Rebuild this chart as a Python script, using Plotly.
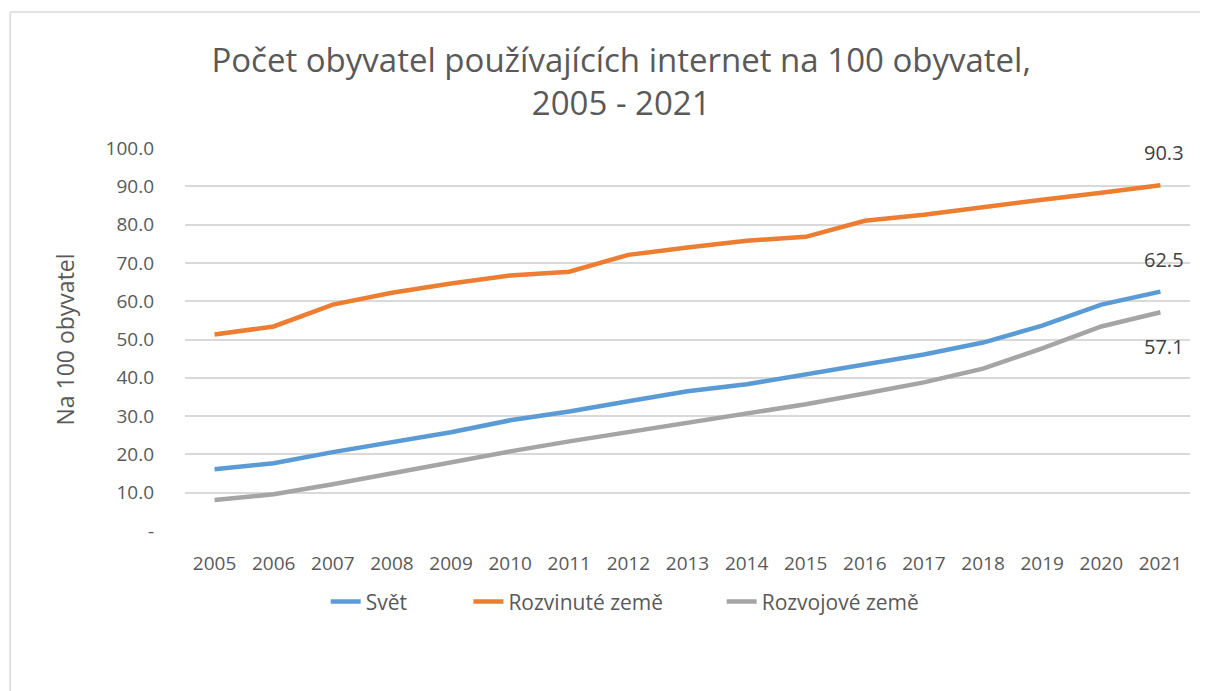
import plotly.graph_objects as go

years = [str(y) for y in range(2005, 2022)]
svet = [16.1, 17.7, 20.6, 23.2, 25.8, 28.9, 31.2, 33.9, 36.5, 38.3, 40.9, 43.5, 46.1, 49.2, 53.6, 59.1, 62.5]
rozvinute = [51.3, 53.4, 59.1, 62.2, 64.6, 66.7, 67.7, 72.1, 74.0, 75.8, 76.8, 81.0, 82.6, 84.6, 86.5, 88.3, 90.3]
rozvojove = [8.1, 9.6, 12.2, 15.1, 17.7, 20.8, 23.4, 25.8, 28.1, 30.5, 33.1, 35.9, 38.8, 42.4, 47.7, 53.4, 57.1]
series_names = ["Svět", "Rozvinuté země", "Rozvojové země"]
y_tickvals = [0, 10, 20, 30, 40, 50, 60, 70, 80, 90, 100]
y_ticktext = ["-", "10.0", "20.0", "30.0", "40.0", "50.0", "60.0", "70.0", "80.0", "90.0", "100.0"]
title_text = "Počet obyvatel používajících internet na 100 obyvatel,<br>2005 - 2021"
y_title = "Na 100 obyvatel"

colors = ["#5B9BD5", "#ED7D31", "#A5A5A5"]
FONT = "Open Sans"
legend_ids = ["legend", "legend2", "legend3"]
legend_x = [0.140, 0.282, 0.534]

fig = go.Figure()
for name, vals, c, lg in zip(series_names, [svet, rozvinute, rozvojove], colors, legend_ids):
    fig.add_trace(go.Scatter(x=years, y=vals, name=name, mode="lines",
                             line=dict(color=c, width=4.5), legend=lg))

# end labels (category index of last year)
last = len(years) - 1
for vals, shift in [(rozvinute, 33), (svet, 32), (rozvojove, -34)]:
    fig.add_annotation(x=last, y=vals[-1], xref="x", yref="y", text=f"{vals[-1]:.1f}",
                       showarrow=False, yshift=shift, xshift=4,
                       font=dict(family=FONT, size=20, color="#404040"))

# chart-area border (top and left edges)
fig.add_shape(type="line", xref="paper", yref="paper", x0=-0.174, y0=1.355, x1=1.2, y1=1.355,
              line=dict(color="#D9D9D9", width=1.5), layer="below")
fig.add_shape(type="line", xref="paper", yref="paper", x0=-0.174, y0=-0.6, x1=-0.174, y1=1.355,
              line=dict(color="#D9D9D9", width=1.5), layer="below")

leg_common = dict(orientation="h", y=-0.185, yanchor="middle", xanchor="left",
                  font=dict(family=FONT, size=21, color="#595959"), bgcolor="rgba(0,0,0,0)")

fig.update_layout(
    width=1200, height=683,
    margin=dict(l=177, r=18, t=140, b=160),
    paper_bgcolor="white", plot_bgcolor="white",
    title=dict(text=title_text, xref="container", x=0.511, xanchor="center",
               yref="container", y=0.906, yanchor="middle",
               font=dict(family=FONT, size=33, color="#595959")),
    showlegend=True,
    legend=dict(x=legend_x[0], **leg_common),
    legend2=dict(x=legend_x[1], **leg_common),
    legend3=dict(x=legend_x[2], **leg_common),
    xaxis=dict(type="category", range=[-0.5, 16.5], showgrid=False, showline=False, zeroline=False,
               ticks="", tickfont=dict(family=FONT, size=19, color="#595959"), ticklabelstandoff=19),
    yaxis=dict(range=[0, 100], tickvals=y_tickvals, ticktext=y_ticktext, showgrid=True,
               gridcolor="#D9D9D9", gridwidth=1.5, zeroline=False, showline=False, ticks="",
               tickfont=dict(family=FONT, size=19, color="#595959"), ticklabelstandoff=30,
               title=dict(text=y_title, font=dict(family=FONT, size=23, color="#595959"), standoff=24)),
)

fig.write_html("out.html")
